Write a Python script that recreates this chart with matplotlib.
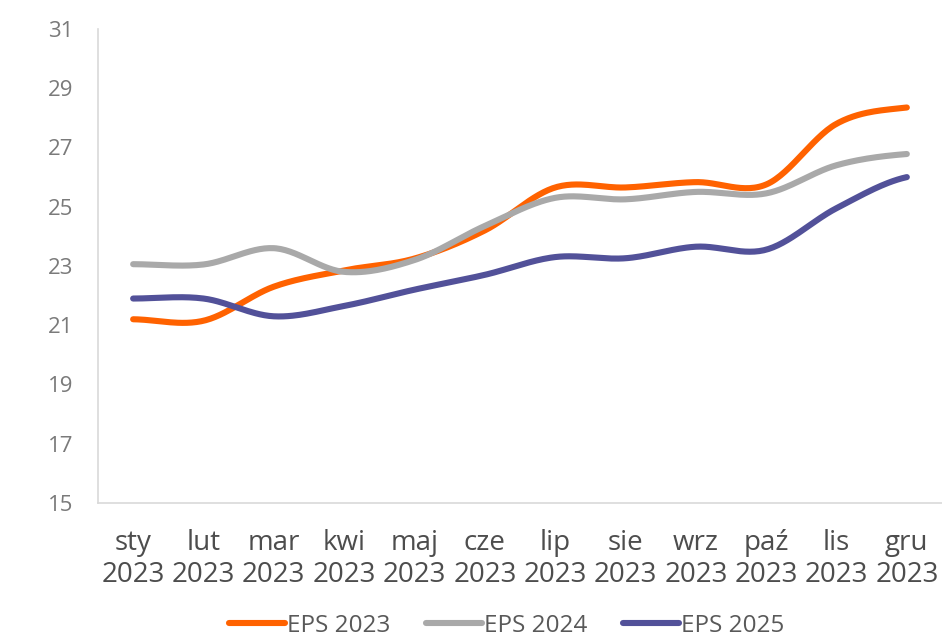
import matplotlib.pyplot as plt
import numpy as np

months = ["sty", "lut", "mar", "kwi", "maj", "cze", "lip", "sie", "wrz", "paź", "lis", "gru"]
year = "2023"

eps_2023 = [21.2, 21.15, 22.3, 22.85, 23.25, 24.2, 25.65, 25.65, 25.83, 25.75, 27.8, 28.35]
eps_2024 = [23.06, 23.05, 23.6, 22.8, 23.2, 24.35, 25.3, 25.25, 25.5, 25.45, 26.4, 26.78]
eps_2025 = [21.9, 21.9, 21.3, 21.65, 22.2, 22.7, 23.3, 23.26, 23.65, 23.55, 24.95, 26.0]

series = [("EPS 2023", eps_2023, "#FF6200"),
          ("EPS 2024", eps_2024, "#A9A9A9"),
          ("EPS 2025", eps_2025, "#525199")]


def smooth(y, n=30):
    # catmull-rom style smoothing, like Excel's smoothed lines
    y = np.asarray(y, dtype=float)
    x = np.arange(len(y), dtype=float)
    xs, ys = [], []
    for i in range(len(y) - 1):
        p0 = y[i - 1] if i > 0 else y[i]
        p1, p2 = y[i], y[i + 1]
        p3 = y[i + 2] if i + 2 < len(y) else y[i + 1]
        t = np.linspace(0, 1, n, endpoint=False)
        yy = 0.5 * (2 * p1 + (-p0 + p2) * t + (2 * p0 - 5 * p1 + 4 * p2 - p3) * t ** 2
                    + (-p0 + 3 * p1 - 3 * p2 + p3) * t ** 3)
        xs.append(x[i] + t)
        ys.append(yy)
    xs.append([x[-1]])
    ys.append([y[-1]])
    return np.concatenate(xs), np.concatenate(ys)


plt.rcParams['font.family'] = ['Open Sans', 'DejaVu Sans']

fig = plt.figure(figsize=(9.42, 6.39), dpi=100)
ax = fig.add_axes([0.104, 0.213, 0.896, 0.7416])

for name, vals, col in series:
    xs, ys = smooth(vals)
    ax.plot(xs, ys, color=col, lw=4.4, solid_capstyle='round', label=name)

ax.set_xlim(-0.5, len(months) - 0.5)
ax.set_ylim(15, 31)
ax.set_yticks(np.arange(15, 32, 2))
ax.set_xticks(range(len(months)))
ax.set_xticklabels([m + "\n" + year for m in months], linespacing=1.2)

for s in ["top", "right"]:
    ax.spines[s].set_visible(False)
for s in ["left", "bottom"]:
    ax.spines[s].set_color("#d9d9d9")
    ax.spines[s].set_linewidth(1.2)
ax.tick_params(axis='x', length=0, labelsize=20, colors="#4d4d4d", pad=19)
ax.tick_params(axis='y', length=0, labelsize=16, colors="#7a7a7a", pad=18)

leg = ax.legend(loc="center", bbox_to_anchor=(0.484, -0.259), ncol=3, frameon=False,
                fontsize=17.5, handlelength=2.3, handletextpad=0.1, columnspacing=1.45)
for t in leg.get_texts():
    t.set_color("#595959")

fig.savefig("out.png", dpi=100)
